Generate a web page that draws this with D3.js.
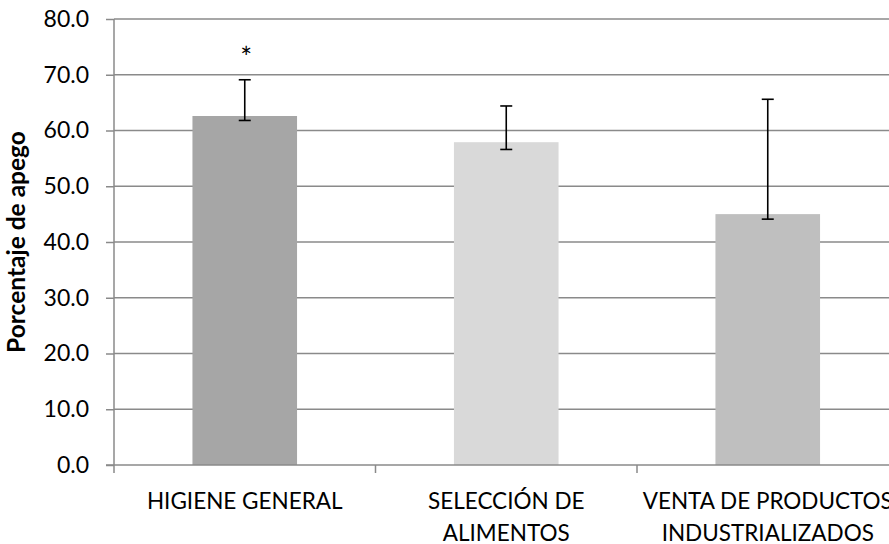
<!DOCTYPE html>
<html>
<head>
<meta charset="utf-8">
<script src="https://cdn.jsdelivr.net/npm/d3@7"></script>
<style>
  html, body { margin: 0; padding: 0; background: #fff; }
  svg { display: block; }
  text { font-family: Lato, "Open Sans", sans-serif; fill: #000; }
</style>
</head>
<body>
<div id="chart"></div>
<script>
// Porcentaje de apego por categoría, con barras de error asimétricas
const categories = [["HIGIENE GENERAL"], ["SELECCIÓN DE", "ALIMENTOS"], ["VENTA DE PRODUCTOS", "INDUSTRIALIZADOS"]];
const values = [62.6, 57.9, 45.0];
const errLow = [61.8, 56.6, 44.1];
const errHigh = [69.1, 64.4, 65.6];
const barColors = ["#a6a6a6", "#d9d9d9", "#bfbfbf"];
const marks = ["*", "", ""];
const yTicks = [0, 10, 20, 30, 40, 50, 60, 70, 80];
const yTitle = "Porcentaje de apego";

const W = 889, H = 544;
const plotL = 114, plotR = 898.5, plotT = 19, plotB = 465;

const svg = d3.select("#chart").append("svg").attr("width", W).attr("height", H);

const x = d3.scaleBand().domain(d3.range(categories.length)).range([plotL, plotR]).paddingInner(0).paddingOuter(0);
const y = d3.scaleLinear().domain([0, 80]).range([plotB, plotT]);
const barW = x.bandwidth() * 0.4;
const gridColor = "#8a8a8a";

// horizontal gridlines
svg.append("g").selectAll("line").data(yTicks.filter(d => d > 0)).join("line")
  .attr("x1", plotL).attr("x2", W).attr("y1", d => y(d)).attr("y2", d => y(d))
  .attr("stroke", gridColor).attr("stroke-width", 1.5);

// y axis
const yAxis = svg.append("g").attr("transform", `translate(${plotL},0)`)
  .call(d3.axisLeft(y).tickValues(yTicks).tickFormat(d3.format(".1f")).tickSize(8).tickPadding(17));
yAxis.select(".domain").attr("stroke", gridColor).attr("stroke-width", 1.5).attr("d", `M0,${plotT}V${plotB}`);
yAxis.selectAll(".tick line").attr("stroke", gridColor).attr("stroke-width", 1.5);
yAxis.selectAll(".tick text").attr("font-size", 23).attr("font-family", "Lato, sans-serif").attr("fill", "#000");

// bars
svg.append("g").selectAll("rect").data(values).join("rect")
  .attr("x", (d, i) => x(i) + (x.bandwidth() - barW) / 2)
  .attr("width", barW)
  .attr("y", d => y(d))
  .attr("height", d => y(0) - y(d))
  .attr("fill", (d, i) => barColors[i]);

// x axis
svg.append("line").attr("x1", plotL - 8).attr("x2", W).attr("y1", plotB).attr("y2", plotB)
  .attr("stroke", gridColor).attr("stroke-width", 1.5);
svg.append("g").selectAll("line").data(d3.range(categories.length + 1)).join("line")
  .attr("x1", i => plotL + i * x.bandwidth()).attr("x2", i => plotL + i * x.bandwidth())
  .attr("y1", plotB).attr("y2", plotB + 8)
  .attr("stroke", gridColor).attr("stroke-width", 1.5);

// category labels
const lab = svg.append("g").selectAll("text").data(categories).join("text")
  .attr("text-anchor", "middle").attr("font-size", 22.5);
lab.selectAll("tspan").data((d, i) => d.map(t => ({ t, i }))).join("tspan")
  .attr("x", d => x(d.i) + x.bandwidth() / 2)
  .attr("y", (d, j) => 509 + j * 32)
  .text(d => d.t);

// error bars
const eb = svg.append("g").attr("stroke", "#000").attr("stroke-width", 1.6);
values.forEach((v, i) => {
  const cx = x(i) + x.bandwidth() / 2;
  eb.append("line").attr("x1", cx).attr("x2", cx).attr("y1", y(errLow[i])).attr("y2", y(errHigh[i]));
  [errLow[i], errHigh[i]].forEach(e => {
    eb.append("line").attr("x1", cx - 6).attr("x2", cx + 6).attr("y1", y(e)).attr("y2", y(e));
  });
});

// significance marks
svg.append("g").selectAll("text").data(marks).join("text")
  .attr("x", (d, i) => x(i) + x.bandwidth() / 2 + 1.5)
  .attr("y", (d, i) => y(errHigh[i]) - 12)
  .attr("text-anchor", "middle")
  .attr("font-family", "'Liberation Serif', serif")
  .attr("font-size", 28)
  .attr("fill", "#222")
  .text(d => d);

// y axis title
svg.append("text")
  .attr("transform", `translate(25,${(plotT + plotB) / 2}) rotate(-90)`)
  .attr("text-anchor", "middle")
  .attr("font-weight", "bold")
  .attr("font-size", 24.5)
  .text(yTitle);
</script>
</body>
</html>
